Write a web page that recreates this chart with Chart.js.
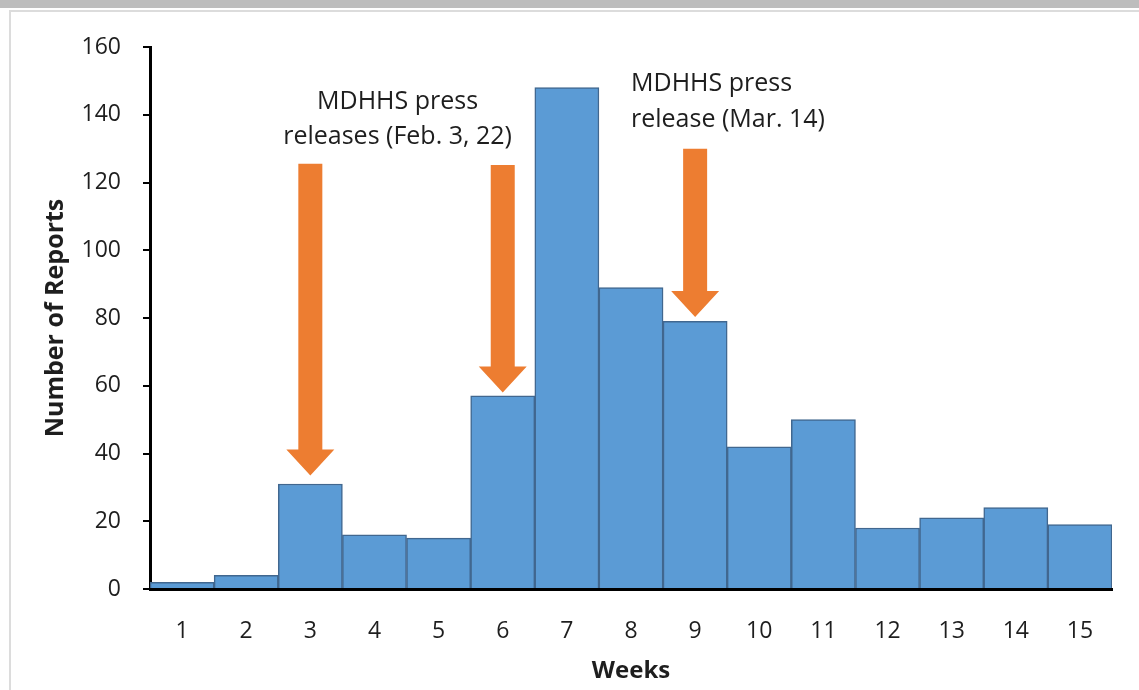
<!DOCTYPE html>
<html>
<head>
<meta charset="utf-8">
<script src="https://cdn.jsdelivr.net/npm/chart.js@4/dist/chart.umd.min.js"></script>
<style>
  html, body { margin: 0; padding: 0; background: #ffffff; }
  body { width: 1139px; height: 690px; position: relative; overflow: hidden; }
  #topbar { position: absolute; left: 0; top: 0; width: 1139px; height: 8px; background: #bdbdbd; }
  #frame { position: absolute; left: 9px; top: 10px; right: -10px; bottom: -10px;
           border-top: 2px solid #dcdcdc; border-left: 2px solid #dcdcdc; }
  #wrap { position: absolute; left: 0; top: 0; width: 1139px; height: 690px; }
</style>
</head>
<body>
<div id="topbar"></div>
<div id="frame"></div>
<div id="wrap"><canvas id="c" width="1139" height="690"></canvas></div>
<script>
// ---- data ----
const weeks = ['1','2','3','4','5','6','7','8','9','10','11','12','13','14','15'];
const reports = [2, 4, 31, 16, 15, 57, 148, 89, 79, 42, 50, 18, 21, 24, 19];
const yTicks = [0, 20, 40, 60, 80, 100, 120, 140, 160];

// annotation arrows (category index, top value, tip value)
const arrowIndex = [2, 5, 8];
const arrowTop = [125.5, 125.2, 130];
const arrowTip = [33.5, 58, 80.3];

// annotation labels
const noteLines = [
  ['MDHHS press', 'releases (Feb. 3, 22)'],
  ['MDHHS press', 'release (Mar. 14)']
];
const noteIndex = [3.36, 7.0];
const noteAlign = ['center', 'left'];
const noteValue = [[143.8, 133.4], [149.1, 138.4]];

const FONT = '"Open Sans", Lato, sans-serif';
const ORANGE = '#ed7d31';
const TEXT = '#1e1e1e';

const annotationPlugin = {
  id: 'annot',
  afterDatasetsDraw(chart) {
    const ctx = chart.ctx;
    const xs = chart.scales.x, ys = chart.scales.y;
    ctx.save();
    ctx.fillStyle = ORANGE;
    const shaftW = 24, headW = 48, headH = 26;
    arrowIndex.forEach((idx, i) => {
      const cx = xs.getPixelForValue(idx);
      const yTop = ys.getPixelForValue(arrowTop[i]);
      const yTip = ys.getPixelForValue(arrowTip[i]);
      const yHead = yTip - headH;
      ctx.beginPath();
      ctx.moveTo(cx - shaftW / 2, yTop);
      ctx.lineTo(cx + shaftW / 2, yTop);
      ctx.lineTo(cx + shaftW / 2, yHead);
      ctx.lineTo(cx + headW / 2, yHead);
      ctx.lineTo(cx, yTip);
      ctx.lineTo(cx - headW / 2, yHead);
      ctx.lineTo(cx - shaftW / 2, yHead);
      ctx.closePath();
      ctx.fill();
    });
    ctx.fillStyle = TEXT;
    ctx.font = '25px ' + FONT;
    ctx.textBaseline = 'middle';
    noteLines.forEach((lines, i) => {
      const cx = xs.getPixelForValue(noteIndex[i]);
      ctx.textAlign = noteAlign[i];
      lines.forEach((t, j) => {
        ctx.fillText(t, cx, ys.getPixelForValue(noteValue[i][j]));
      });
    });
    ctx.restore();
  }
};

new Chart(document.getElementById('c'), {
  type: 'bar',
  data: {
    labels: weeks,
    datasets: [{
      data: reports,
      backgroundColor: '#5b9bd5',
      borderColor: '#41678f',
      borderWidth: 1.5,
      barPercentage: 1.0,
      categoryPercentage: 1.0
    }]
  },
  options: {
    responsive: false,
    animation: false,
    devicePixelRatio: 1,
    layout: { padding: { left: 0, right: 27, top: 47, bottom: 0 } },
    plugins: { legend: { display: false }, tooltip: { enabled: false } },
    scales: {
      x: {
        grid: { display: true, drawOnChartArea: false, drawTicks: false, color: 'rgba(0,0,0,0)' },
        border: { display: true, color: '#000', width: 3 },
        ticks: { color: TEXT, font: { family: FONT, size: 23 }, padding: 29, maxRotation: 0 },
        title: { display: true, text: 'Weeks', color: TEXT,
                 font: { family: FONT, size: 24, weight: 'bold' }, padding: { top: 0, bottom: 4 } },
        afterFit(scale) { scale.height = 101; }
      },
      y: {
        min: 0, max: 160,
        afterBuildTicks(scale) { scale.ticks = yTicks.map(v => ({ value: v })); },
        grid: { display: true, drawOnChartArea: false, drawTicks: true, tickLength: 7, color: '#000', lineWidth: 2 },
        border: { display: true, color: '#000', width: 3 },
        ticks: { color: TEXT, font: { family: FONT, size: 23 }, padding: 22 },
        title: { display: true, text: 'Number of Reports', color: TEXT,
                 font: { family: FONT, size: 25, weight: 'bold' }, padding: { top: 41, bottom: 0 } },
        afterFit(scale) { scale.width = 150; }
      }
    }
  },
  plugins: [annotationPlugin]
});
</script>
</body>
</html>
